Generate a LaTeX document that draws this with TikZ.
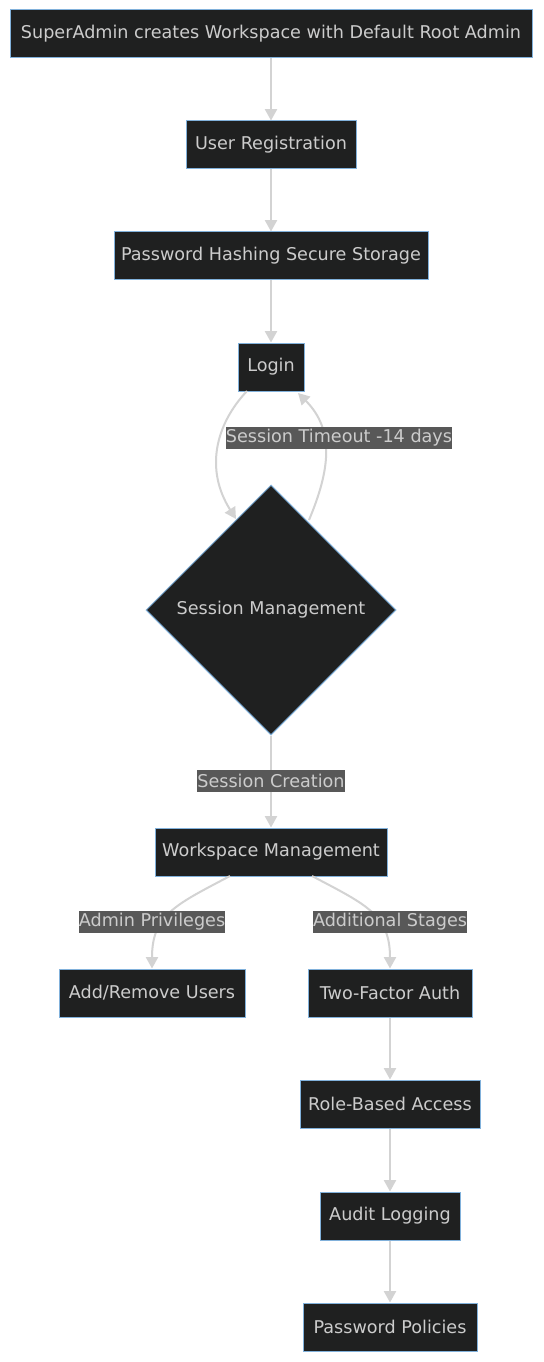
\documentclass[tikz,border=0pt]{standalone}
\usepackage{fontspec}
\setmainfont{DejaVu Sans}
\usetikzlibrary{arrows.meta,shapes.geometric}
\definecolor{nodefill}{HTML}{1F2020}
\definecolor{nodeborder}{HTML}{81B1DB}
\definecolor{nodetext}{HTML}{CCCCCC}
\definecolor{edgecol}{HTML}{D3D3D3}
\definecolor{labelbg}{HTML}{585858}
\tikzset{
  lbl/.style={font=\fontsize{13.2}{15}\selectfont},
  box/.style={draw=nodeborder, fill=nodefill, text=nodetext, line width=0.75pt,
    minimum height=36pt, inner xsep=0pt, lbl},
  decision/.style={diamond, draw=nodeborder, fill=nodefill, text=nodetext, line width=0.75pt,
    minimum width=187.5pt, minimum height=187.5pt, inner sep=0pt, aspect=1, lbl},
  edge/.style={draw=edgecol, line width=1.5pt, -{Triangle[length=8.5pt,width=9pt]}},
  elabel/.style={fill=labelbg, text=nodetext, inner xsep=0pt, inner ysep=0pt,
    minimum height=16.5pt, lbl}
}
\begin{document}
\begin{tikzpicture}[x=0.75pt,y=-0.75pt]
\useasboundingbox[fill=white] (0,0) rectangle (543,1362);
\node[box, minimum width=391.5pt] (n1) at (271,34) {SuperAdmin creates Workspace with Default Root Admin};
\node[box, minimum width=127.5pt] (n2) at (271,145) {User Registration};
\node[box, minimum width=235.5pt] (n3) at (271,256) {Password Hashing Secure Storage};
\node[box, minimum width=49.5pt] (n4) at (271,367) {Login};
\node[decision] (d) at (271,610) {Session Management};
\node[box, minimum width=174pt] (n6) at (271,852) {Workspace Management};
\node[box, minimum width=139.5pt] (n7) at (152,993) {Add/Remove Users};
\node[box, minimum width=123pt] (n8) at (390,993) {Two-Factor Auth};
\node[box, minimum width=135pt] (n9) at (390,1104) {Role-Based Access};
\node[box, minimum width=105pt] (n10) at (390,1216) {Audit Logging};
\node[box, minimum width=130.5pt] (n11) at (390,1327) {Password Policies};

\coordinate (l1) at (247,391);
\coordinate (d1) at (236,519);
\coordinate (d2) at (309,520);
\coordinate (l2) at (298,393);
\coordinate (w1) at (230,876);
\coordinate (w2) at (312,876);

\draw[edge] (n1) -- (n2);
\draw[edge] (n2) -- (n3);
\draw[edge] (n3) -- (n4);
\draw[edge] (l1) .. controls (215,425) and (205,470) .. (d1);
\draw[edge] (d2) .. controls (330,470) and (335,430) .. (l2);
\node[elabel] (lt) at (339,438) {Session Timeout -14 days};
\draw[edge] (d) -- (n6);
\node[elabel] (lc) at (271,781) {Session Creation};
\draw[edge] (w1) .. controls (175,905) and (152,915) .. (n7.north);
\draw[edge] (w2) .. controls (367,905) and (390,915) .. (n8.north);
\node[elabel] (la) at (152,922) {Admin Privileges};
\node[elabel] (ls) at (390,922) {Additional Stages};
\draw[edge] (n8) -- (n9);
\draw[edge] (n9) -- (n10);
\draw[edge] (n10) -- (n11);
\end{tikzpicture}
\end{document}
